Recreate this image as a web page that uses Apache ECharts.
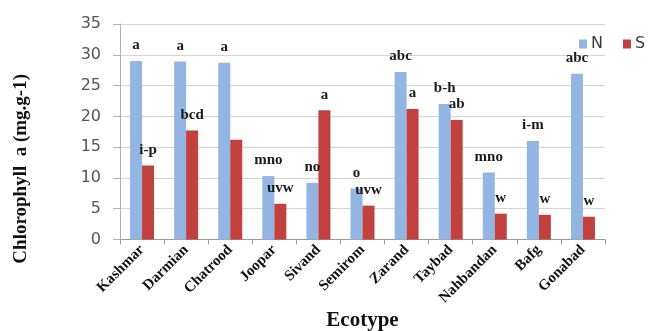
<!DOCTYPE html>
<html>
<head>
<meta charset="utf-8">
<script src="https://cdn.jsdelivr.net/npm/echarts@6/dist/echarts.min.js"></script>
<style>
  html, body { margin: 0; padding: 0; background: #ffffff; }
  #chart { width: 656px; height: 331px; }
</style>
</head>
<body>
<div id="chart"></div>
<script>
// Ecotypes along the x axis
const ecotypes = ['Kashmar', 'Darmian', 'Chatrood', 'Joopar', 'Sivand', 'Semirom',
                  'Zarand', 'Taybad', 'Nahbandan', 'Bafg', 'Gonabad'];

// Chlorophyll a (mg.g-1) per treatment
const valuesN = [29.0, 28.9, 28.7, 10.3, 9.2, 8.3, 27.2, 22.0, 10.9, 16.0, 26.9];
const valuesS = [12.0, 17.7, 16.2, 5.8, 21.0, 5.5, 21.2, 19.4, 4.2, 4.0, 3.7];

// Mean-separation letters shown above each bar ('' = none)
const lettersN = ['a', 'a', 'a', 'mno', 'no', 'o', 'abc', 'b-h', 'mno', 'i-m', 'abc'];
const lettersS = ['i-p', 'bcd', '', 'uvw', 'a', 'uvw', 'a', 'ab', 'w', 'w', 'w'];

// Value axis ticks
const yTicks = [0, 5, 10, 15, 20, 25, 30, 35];

const serif = '"Liberation Serif", "Times New Roman", serif';

function letterLabel(letters) {
  return {
    show: true,
    position: 'top',
    distance: 8,
    fontFamily: serif,
    fontWeight: 'bold',
    fontSize: 15,
    color: '#1a1a1a',
    formatter: p => letters[p.dataIndex]
  };
}

const chart = echarts.init(document.getElementById('chart'), null, { renderer: 'canvas' });

chart.setOption({
  animation: false,
  backgroundColor: '#ffffff',
  grid: { left: 120, right: 51, top: 24, bottom: 91.5, containLabel: false, outerBoundsMode: 'none' },
  legend: {
    data: ['N', 'S'],
    left: 574,
    top: 31,
    itemWidth: 8,
    itemHeight: 9,
    itemGap: 20,
    icon: 'rect',
    textStyle: { fontFamily: '"DejaVu Sans", sans-serif', fontSize: 16, color: '#3a3a3a', padding: [0, 0, 0, -1] }
  },
  xAxis: {
    type: 'category',
    data: ecotypes,
    boundaryGap: true,
    name: 'Ecotype',
    nameLocation: 'middle',
    nameGap: 71,
    nameMoveOverlap: false,
    nameTextStyle: { fontFamily: serif, fontWeight: 'bold', fontSize: 21, color: '#111' },
    axisLine: { lineStyle: { color: '#9a9a9a', width: 1 } },
    axisTick: { show: true, length: 5, lineStyle: { color: '#9a9a9a' } },
    axisLabel: {
      rotate: 45,
      margin: 8,
      interval: 0,
      fontFamily: serif,
      fontWeight: 'bold',
      fontSize: 15,
      color: '#111'
    }
  },
  yAxis: {
    type: 'value',
    min: yTicks[0],
    max: yTicks[yTicks.length - 1],
    interval: 5,
    axisLine: { show: true, lineStyle: { color: '#b0b0b0' } },
    axisTick: { show: true, length: 7, lineStyle: { color: '#b0b0b0' } },
    axisLabel: {
      margin: 19,
      fontFamily: '"DejaVu Sans", sans-serif',
      fontSize: 16,
      color: '#555555'
    },
    splitLine: { show: true, lineStyle: { color: '#d4d4d4', width: 1 } }
  },
  graphic: [{
    type: 'text',
    left: 12,
    top: 74,
    rotation: Math.PI / 2,
    style: {
      text: 'Chlorophyll  a (mg.g-1)',
      fontFamily: serif,
      fontWeight: 'bold',
      fontSize: 19,
      fill: '#111'
    }
  }],
  series: [
    {
      name: 'N',
      type: 'bar',
      data: valuesN,
      barWidth: 12,
      barGap: '0%',
      itemStyle: { color: '#93b5e1' },
      label: letterLabel(lettersN)
    },
    {
      name: 'S',
      type: 'bar',
      data: valuesS,
      barWidth: 12,
      barGap: '0%',
      itemStyle: { color: '#c0413e' },
      label: letterLabel(lettersS)
    }
  ]
});
</script>
</body>
</html>
